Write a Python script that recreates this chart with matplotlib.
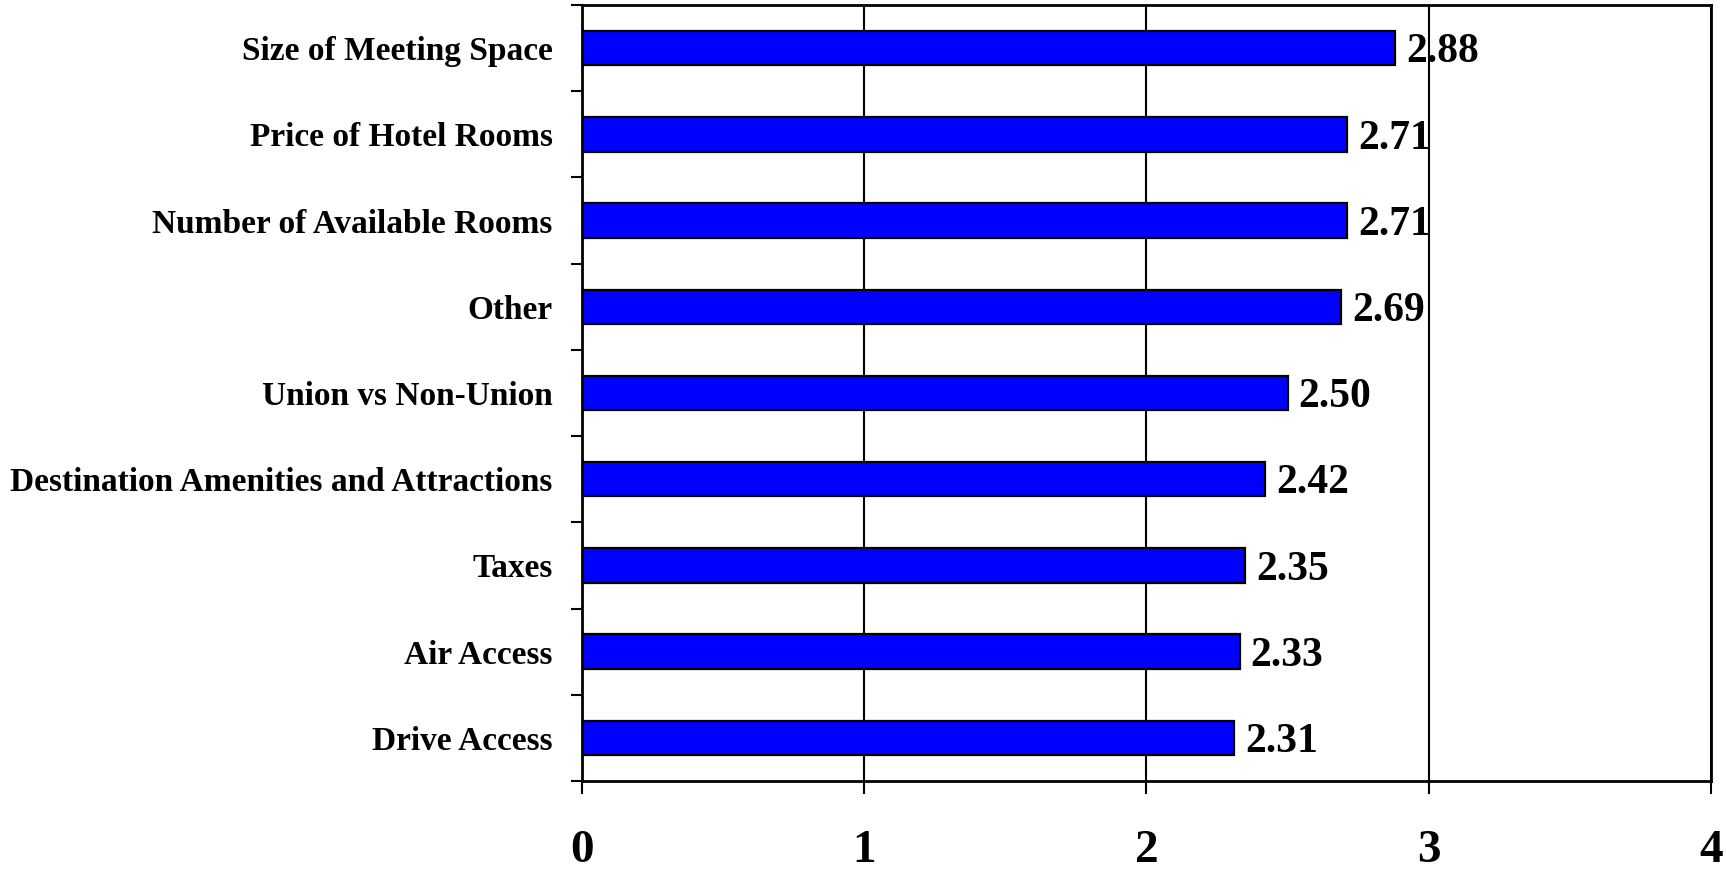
import numpy as np
import matplotlib
matplotlib.use("Agg")
import matplotlib.pyplot as plt

categories = ["Size of Meeting Space", "Price of Hotel Rooms", "Number of Available Rooms",
              "Other", "Union vs Non-Union", "Destination Amenities and Attractions",
              "Taxes", "Air Access", "Drive Access"]
scores = [2.88, 2.71, 2.71, 2.69, 2.50, 2.42, 2.35, 2.33, 2.31]
x_ticks = [0, 1, 2, 3, 4]

plt.rcParams['font.family'] = ['Liberation Serif', 'DejaVu Serif']
plt.rcParams['font.weight'] = 'bold'

fig = plt.figure(figsize=(17.26, 8.69), dpi=100)
ax = fig.add_axes([0.3372, 0.1013, 0.6541, 0.8929])

y = np.arange(len(categories))
ax.barh(y, scores, height=0.4, color="#0000FF", edgecolor="black", linewidth=1.6, zorder=2)

for yi, v in zip(y, scores):
    ax.annotate(f"{v:.2f}", xy=(v, yi), xytext=(8, -3), textcoords="offset points",
                ha="left", va="center", fontsize=30, fontweight="bold")

ax.set_xlim(0, 4)
ax.set_ylim(len(categories) - 0.5, -0.5)
ax.set_xticks(x_ticks)
ax.set_xticklabels([str(t) for t in x_ticks], fontsize=34, fontweight="bold")
ax.set_yticks(y)
ax.set_yticklabels(categories, fontsize=24, fontweight="bold")
ax.set_yticks(np.arange(-0.5, len(categories), 1), minor=True)

ax.tick_params(axis="y", which="major", length=0, pad=21)
ax.tick_params(axis="y", which="minor", length=8, width=1.5, direction="out")
ax.tick_params(axis="x", which="major", length=9, width=1.5, direction="out", pad=26)

ax.grid(axis="x", color="black", linewidth=1.5, zorder=0)
ax.set_axisbelow(True)
for s in ax.spines.values():
    s.set_linewidth(2)
    s.set_color("black")

fig.savefig("out.png", dpi=100)
